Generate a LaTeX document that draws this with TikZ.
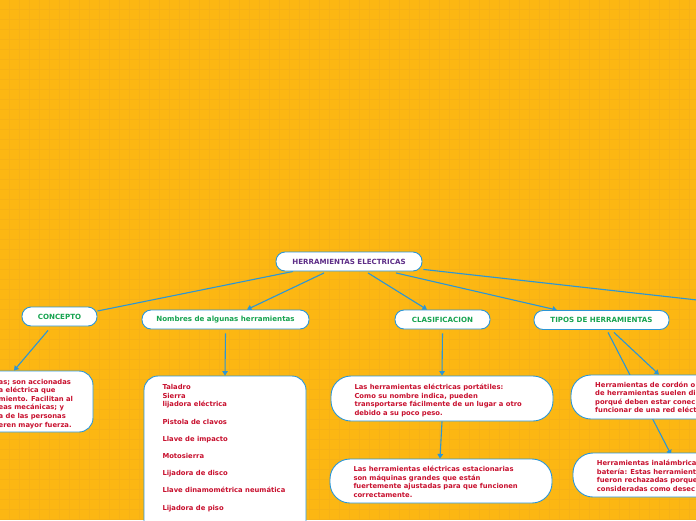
\documentclass[tikz,border=0pt]{standalone}
\usepackage{fontspec}
\setmainfont{DejaVu Sans}
\usetikzlibrary{arrows.meta,calc}
\definecolor{bgc}{RGB}{252,183,19}
\definecolor{gridc}{RGB}{246,177,24}
\definecolor{edgec}{RGB}{43,150,214}
\definecolor{purp}{RGB}{94,45,135}
\definecolor{grn}{RGB}{22,163,80}
\definecolor{crim}{RGB}{200,16,46}
\pgfdeclarelayer{gridlayer}
\pgfdeclarelayer{edgelayer}
\pgfsetlayers{gridlayer,edgelayer,main}
\begin{document}
\begin{tikzpicture}[x=1pt,y=-1pt,
  pill/.style={draw=edgec, line width=0.9pt, fill=white, rounded corners=9pt,
    minimum height=19pt, inner sep=0pt, font=\bfseries\fontsize{7.1}{8}\selectfont},
  bigbox/.style={draw=edgec, line width=0.9pt, fill=white, rounded corners=#1, inner sep=0pt},
  bigbox/.default=16pt,
  bodytext/.style={anchor=north west, inner sep=0pt, align=left, text=crim,
    font=\bfseries\fontsize{6.8}{8.6}\selectfont},
  conn/.style={draw=edgec, line width=1.1pt},
  arr/.style={conn, -{Triangle[width=5.5pt,length=4.5pt]}}
]
\useasboundingbox (0,0) rectangle (696,520);
\begin{pgfonlayer}{gridlayer}
  \fill[bgc] (0,0) rectangle (696,520);
  \foreach \i in {0,...,69} { \draw[gridc, line width=0.8pt] (9.5+10*\i,0) -- (9.5+10*\i,520); }
  \foreach \j in {0,...,51} { \draw[gridc, line width=0.8pt] (0,9.5+10*\j) -- (696,9.5+10*\j); }
\end{pgfonlayer}

% header nodes
\node[pill, minimum width=146pt, text=purp] (root) at (349,261.5) {HERRAMIENTAS ELECTRICAS};
\node[pill, minimum width=75pt, text=grn] (concepto) at (59.5,316.5) {CONCEPTO};
\node[pill, minimum width=167pt, text=grn] (nombres) at (225.5,319.5) {Nombres de algunas herramientas};
\node[pill, minimum width=95pt, text=grn] (clasif) at (442.5,319.5) {CLASIFICACION};
\node[pill, minimum width=135pt, text=grn] (tipos) at (601.5,320) {TIPOS DE HERRAMIENTAS};
\coordinate (offchild) at (760,307);

% content boxes
\node[bigbox=14pt, minimum width=153pt, minimum height=61pt] (cbox) at (16.5,401.5) {};
\node[bigbox=14pt, minimum width=162pt, minimum height=184pt] (lbox) at (225,468) {};
\node[bigbox=20pt, minimum width=222pt, minimum height=45pt] (cl1) at (442,398.5) {};
\node[bigbox=20pt, minimum width=222pt, minimum height=44pt] (cl2) at (441,481) {};
\node[bigbox=20pt, minimum width=189pt, minimum height=44pt] (ti1) at (665.5,397) {};
\node[bigbox=20pt, minimum width=187pt, minimum height=44pt] (ti2) at (666.5,475) {};

% texts
\node[bodytext] (ctext) at (-1.5,377.8) {\strut as; son accionadas\\a eléctrica que\\miento. Facilitan al\\eas mecánicas; y\\a de las personas\\eren mayor fuerza.};
\node[bodytext] (ltext) at (162.3,383.4) {\strut Taladro\\Sierra\\lijadora eléctrica\\[8.6pt]Pistola de clavos\\[8.6pt]Llave de impacto\\[8.6pt]Motosierra\\[8.6pt]Lijadora de disco\\[8.6pt]Llave dinamométrica neumática\\[8.6pt]Lijadora de piso};
\node[bodytext] (cl1text) at (354.3,383.3) {\strut Las herramientas eléctricas portátiles:\\Como su nombre indica, pueden\\transportarse fácilmente de un lugar a otro\\debido a su poco peso.};
\node[bodytext] (cl2text) at (353.3,465.2) {\strut Las herramientas eléctricas estacionarias\\son máquinas grandes que están\\fuertemente ajustadas para que funcionen\\correctamente.};
\node[bodytext] (ti1text) at (595,380.8) {\strut Herramientas de cordón o\\de herramientas suelen di\\porqué deben estar conec\\funcionar de una red eléct};
\node[bodytext] (ti2text) at (596.7,459.4) {\strut Herramientas inalámbrica\\batería: Estas herramient\\fueron rechazadas porque\\consideradas como desec};

% connectors
\begin{pgfonlayer}{edgelayer}
  \draw[conn] ([xshift=-56pt]root.south) -- ([yshift=5.5pt]concepto.east);
  \draw[arr] ([xshift=-25pt,yshift=-1.5pt]root.south) -- ([xshift=21.5pt]nombres.north);
  \draw[arr] ([xshift=19pt,yshift=-1.5pt]root.south) -- ([xshift=-15.5pt]clasif.north);
  \draw[arr] ([xshift=47pt,yshift=-1.5pt]root.south) -- ([xshift=-44.5pt]tipos.north);
  \draw[conn] ([xshift=1pt,yshift=2pt]root.south east) -- (offchild);
  \draw[arr] ([xshift=-11.5pt,yshift=-4pt]concepto.south) -- ([xshift=-2.5pt]cbox.north);
  \draw[arr] ([yshift=-4pt]nombres.south) -- (lbox.north);
  \draw[arr] ([yshift=-4pt]clasif.south) -- (cl1.north);
  \draw[arr] (cl1.south) -- ([xshift=-1pt]cl2.north);
  \draw[arr] ([xshift=12.5pt,yshift=-2.5pt]tipos.south) -- ([xshift=-6.5pt]ti1.north);
  \draw[arr] ([xshift=6.5pt,yshift=-2.5pt]tipos.south) -- ([xshift=4.5pt,yshift=-2pt]ti2.north);
\end{pgfonlayer}
\end{tikzpicture}
\end{document}
